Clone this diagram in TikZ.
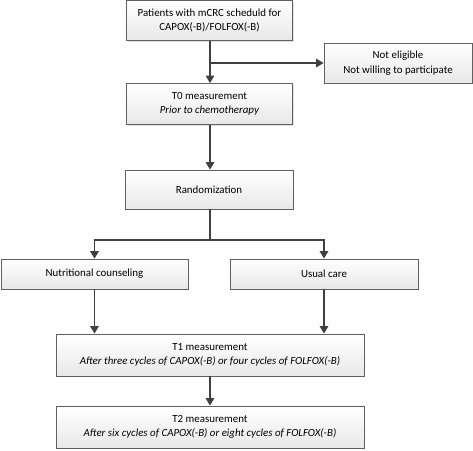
\documentclass[tikz,border=0pt]{standalone}
\usepackage{fontspec}
\setmainfont{Carlito}
\usetikzlibrary{arrows.meta,shadows}
\begin{document}
\begin{tikzpicture}[x=1pt,y=-1pt,
  box/.style={draw=gray!75!black, line width=0.8pt, top color=white, bottom color=gray!18,
    drop shadow={shadow xshift=1.2pt, shadow yshift=-1.2pt, fill=gray!40, opacity=0.6},
    inner sep=0pt, align=center, font=\fontsize{10.9}{14.5}\selectfont},
  conn/.style={draw=black!75, line width=1.4pt},
  arr/.style={conn, -{Triangle[length=7.5pt,width=8.5pt]}}]
\useasboundingbox (0,0) rectangle (473,450);
\node[box, minimum width=166pt, minimum height=40pt] (p) at (209.5,20.5) {Patients with mCRC scheduld for\\CAPOX(-B)/FOLFOX(-B)};
\node[box, minimum width=148pt, minimum height=40pt] (ne) at (398,63) {Not eligible\\Not willing to participate};
\node[box, minimum width=166pt, minimum height=41pt] (t0) at (209.5,104) {T0 measurement\\\textit{Prior to chemotherapy}};
\node[box, minimum width=168pt, minimum height=39pt] (r) at (209,189.5) {Randomization};
\node[box, minimum width=187pt, minimum height=30pt] (nc) at (94.5,274) {Nutritional counseling};
\node[box, minimum width=188pt, minimum height=30pt] (uc) at (324,274) {Usual care};
\node[box, minimum width=308pt, minimum height=42pt] (t1) at (210,355) {T1 measurement\\\textit{After three cycles of CAPOX(-B) or four cycles of FOLFOX(-B)}};
\node[box, minimum width=308pt, minimum height=42pt] (t2) at (210,427) {T2 measurement\\\textit{After six cycles of CAPOX(-B) or eight cycles of FOLFOX(-B)}};
\coordinate (b1) at (210,63);
\coordinate (b2) at (210,240);
\draw[arr] (p.south -| b1) -- (t0.north -| b1);
\draw[arr] (b1) -- (ne.west);
\draw[arr] (t0.south -| b1) -- (r.north -| b1);
\draw[conn] (r.south -| b2) -- (b2);
\draw[arr] (b2) -| (nc.north);
\draw[arr] (b2) -| (uc.north);
\draw[arr] (nc.south) -- (nc.south |- t1.north);
\draw[arr] (uc.south) -- (uc.south |- t1.north);
\draw[arr] (t1.south -| b1) -- (t2.north -| b1);
\end{tikzpicture}
\end{document}
